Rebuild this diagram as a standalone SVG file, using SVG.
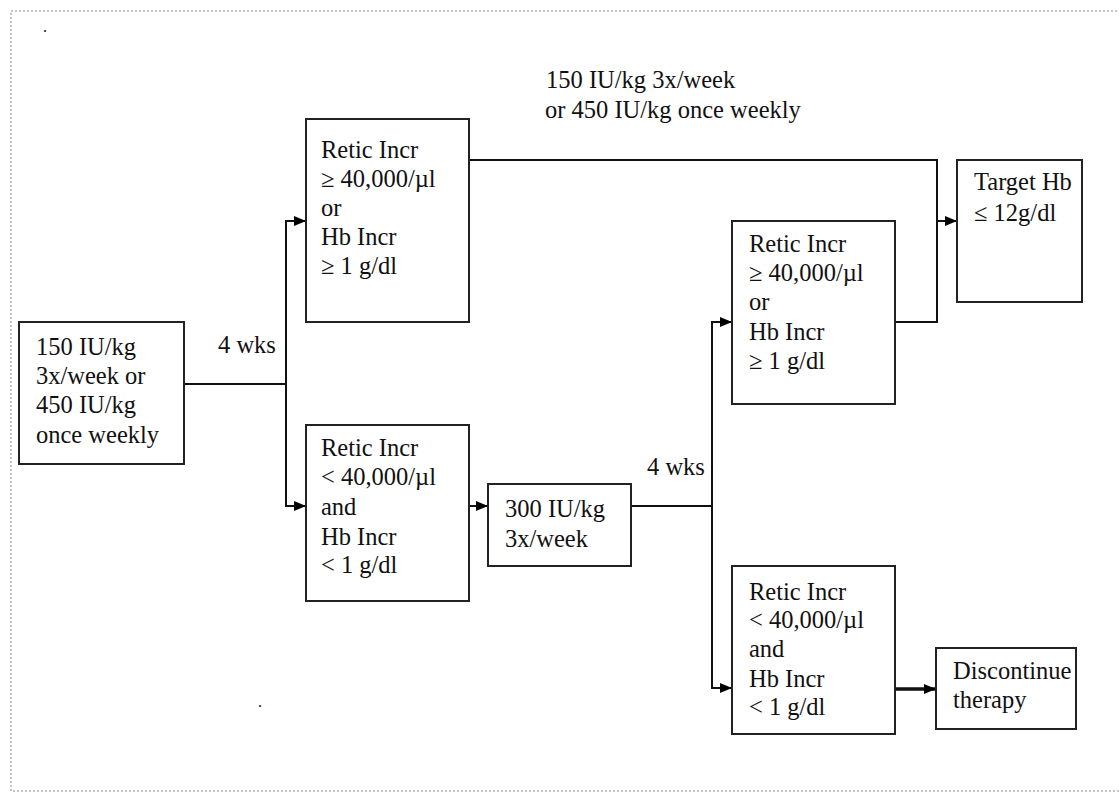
<svg xmlns="http://www.w3.org/2000/svg" width="1119" height="792" viewBox="0 0 1119 792">
<defs>
<marker id="ah" viewBox="0 0 12 10" refX="12" refY="5" markerWidth="12" markerHeight="10" markerUnits="userSpaceOnUse" orient="auto">
<path d="M0,0 L12,5 L0,10 Z" fill="#000"/>
</marker>
<style>
.frame{fill:none;stroke:#c4c4c4;stroke-width:2;stroke-dasharray:2 2}
.box{fill:#fff;stroke:#222;stroke-width:2}
.ln{fill:none;stroke:#111;stroke-width:2}
.arr{fill:none;stroke:#111;stroke-width:2;marker-end:url(#ah)}
.thick{fill:none;stroke:#111;stroke-width:3.5;marker-end:url(#ah)}
text{font-family:"Liberation Serif","Times New Roman",serif;font-size:24.5px;fill:#111}
</style>
</defs>
<rect width="1119" height="792" fill="#fff"/>
<rect class="frame" x="11" y="11" width="1120" height="780"/>
<text x="43" y="32" style="font-size:16px">.</text>
<text x="258" y="707" style="font-size:16px">.</text>

<g id="connectors">
<polyline class="ln" points="184,384 286,384"/>
<line class="ln" x1="286" y1="221" x2="286" y2="506"/>
<line class="arr" x1="285" y1="221" x2="306" y2="221"/>
<line class="arr" x1="285" y1="506" x2="306" y2="506"/>
<line class="arr" x1="469" y1="506" x2="488" y2="506"/>
<line class="ln" x1="631" y1="506" x2="712" y2="506"/>
<line class="ln" x1="712" y1="321" x2="712" y2="689"/>
<line class="arr" x1="711" y1="322" x2="732" y2="322"/>
<line class="arr" x1="711" y1="688" x2="732" y2="688"/>
<polyline class="ln" points="469,160 937,160 937,322 895,322"/>
<line class="arr" x1="936" y1="221" x2="957" y2="221"/>
<line class="thick" x1="895" y1="689" x2="936" y2="689"/>
</g>

<g id="label-top">
<text x="546" y="88">150 IU/kg 3x/week</text>
<text x="545" y="118">or 450 IU/kg once weekly</text>
</g>
<g id="label-4wks-1"><text x="218" y="353">4 wks</text></g>
<g id="label-4wks-2"><text x="647" y="475">4 wks</text></g>

<g id="start">
<rect class="box" x="19" y="322" width="165" height="142"/>
<text x="36" y="355">150 IU/kg</text>
<text x="36" y="384">3x/week or</text>
<text x="36" y="413">450 IU/kg</text>
<text x="36" y="443">once weekly</text>
</g>

<g id="resp1">
<rect class="box" x="306" y="119" width="163" height="203"/>
<text x="321" y="158">Retic Incr</text>
<text x="321" y="187">≥ 40,000/µl</text>
<text x="321" y="216">or</text>
<text x="321" y="245">Hb Incr</text>
<text x="321" y="274">≥ 1 g/dl</text>
</g>

<g id="noresp1">
<rect class="box" x="306" y="425" width="163" height="176"/>
<text x="321" y="456">Retic Incr</text>
<text x="321" y="485">&lt; 40,000/µl</text>
<text x="321" y="515">and</text>
<text x="321" y="545">Hb Incr</text>
<text x="321" y="573">&lt; 1 g/dl</text>
</g>

<g id="dose300">
<rect class="box" x="488" y="484" width="143" height="82"/>
<text x="505" y="517">300 IU/kg</text>
<text x="505" y="547">3x/week</text>
</g>

<g id="resp2">
<rect class="box" x="732" y="221" width="163" height="183"/>
<text x="749" y="252">Retic Incr</text>
<text x="749" y="281">≥ 40,000/µl</text>
<text x="749" y="310">or</text>
<text x="749" y="340">Hb Incr</text>
<text x="749" y="369">≥ 1 g/dl</text>
</g>

<g id="noresp2">
<rect class="box" x="732" y="566" width="163" height="168"/>
<text x="749" y="600">Retic Incr</text>
<text x="749" y="628">&lt; 40,000/µl</text>
<text x="749" y="657">and</text>
<text x="749" y="687">Hb Incr</text>
<text x="749" y="715">&lt; 1 g/dl</text>
</g>

<g id="target">
<rect class="box" x="957" y="160" width="125" height="142"/>
<text x="974" y="190">Target Hb</text>
<text x="974" y="221">≤ 12g/dl</text>
</g>

<g id="discontinue">
<rect class="box" x="936" y="648" width="140" height="81"/>
<text x="953" y="679">Discontinue</text>
<text x="953" y="708">therapy</text>
</g>
</svg>
